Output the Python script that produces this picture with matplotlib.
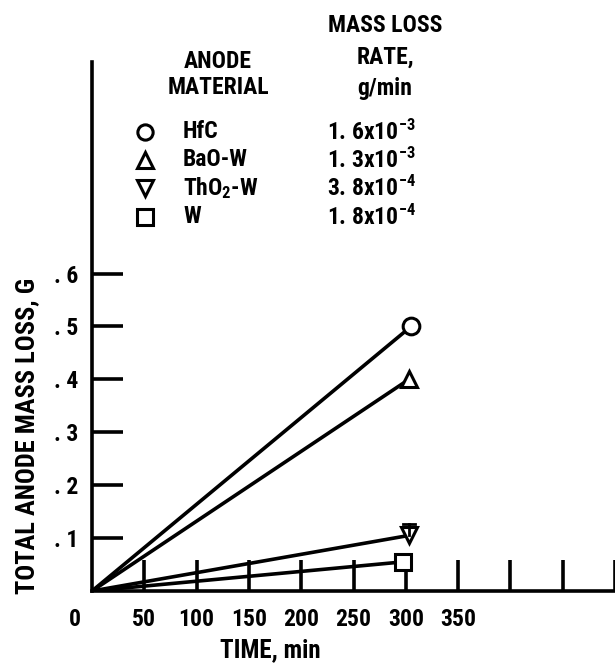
import numpy as np
import matplotlib
matplotlib.use("Agg")
import matplotlib.pyplot as plt

# data
materials = ["HfC", "BaO-W", "ThO$_2$-W", "W"]
rates = ["1. 6x10$^{-3}$", "1. 3x10$^{-3}$", "3. 8x10$^{-4}$", "1. 8x10$^{-4}$"]
markers = ["o", "^", "v", "s"]
end_time = [305, 303, 303, 297]        # min
end_loss = [0.50, 0.40, 0.105, 0.055]  # g
err_top = [None, None, 0.126, None]

xticks = [50, 100, 150, 200, 250, 300, 350, 400, 450, 500]
xlabels = ["50", "100", "150", "200", "250", "300", "350", "", "", ""]
yticks = [0.1, 0.2, 0.3, 0.4, 0.5, 0.6]
ylabels = [". 1", ". 2", ". 3", ". 4", ". 5", ". 6"]

FONT = "Roboto Condensed"
plt.rcParams["font.family"] = [FONT, "DejaVu Sans"]
plt.rcParams["font.weight"] = "bold"
plt.rcParams["mathtext.fontset"] = "custom"
plt.rcParams["mathtext.rm"] = FONT + ":bold"
plt.rcParams["mathtext.it"] = FONT + ":bold"
plt.rcParams["mathtext.bf"] = FONT + ":bold"

W, H = 615, 663
fig = plt.figure(figsize=(W / 100, H / 100), dpi=100)
x0, y0, x1, y1 = 92, 591, 615, 62
ax = fig.add_axes([x0 / W, (H - y0) / H, (x1 - x0) / W, (y0 - y1) / H])
ax.set_xlim(0, 500)
ax.set_ylim(0, 1.0)

lw = 2.6
for sp in ["top", "right"]:
    ax.spines[sp].set_visible(False)
for sp in ["left", "bottom"]:
    ax.spines[sp].set_linewidth(lw)

# data lines + markers
for i in range(4):
    ax.plot([0, end_time[i]], [0, end_loss[i]], color="black", lw=lw,
            solid_capstyle="butt", zorder=3)
    ax.plot(end_time[i], end_loss[i], marker=markers[i], ms=12, mfc="white",
            mec="black", mew=2.2, ls="none", zorder=4, clip_on=False)
    if err_top[i] is not None:
        ax.plot([end_time[i], end_time[i]], [end_loss[i], err_top[i]],
                color="black", lw=2.0, zorder=5)
        ax.plot([end_time[i] - 6, end_time[i] + 6], [err_top[i], err_top[i]],
                color="black", lw=2.0, zorder=5)

ax.set_xticks(xticks)
ax.set_xticklabels(xlabels)
ax.set_yticks(yticks)
ax.set_yticklabels(ylabels)
ax.tick_params(direction="in", length=22, width=lw, labelsize=17, pad=12)
ax.tick_params(axis="y", pad=10)

ax.annotate("0", xy=(0, 0), xycoords="data", xytext=(-17, -17),
            textcoords="offset pixels", ha="center", va="top", fontsize=17)

fig.text(270 / W, 1 - 650 / H, "TIME, min", ha="center", va="center", fontsize=18)
fig.text(27 / W, 1 - 436 / H, "TOTAL ANODE MASS LOSS, G", ha="center",
         va="center", rotation=90, fontsize=19)

# legend block
fig.text(218 / W, 1 - 62 / H, "ANODE", ha="center", va="center", fontsize=17)
fig.text(218 / W, 1 - 88 / H, "MATERIAL", ha="center", va="center", fontsize=17)
fig.text(385 / W, 1 - 26 / H, "MASS LOSS", ha="center", va="center", fontsize=17)
fig.text(385 / W, 1 - 57 / H, "RATE,", ha="center", va="center", fontsize=17)
fig.text(385 / W, 1 - 88 / H, "g/min", ha="center", va="center", fontsize=17)
row_y = [132, 160, 188, 217]
for i in range(4):
    fy = 1 - row_y[i] / H
    ax.plot([145 / W], [fy], marker=markers[i], ms=11, mfc="white", mec="black",
            mew=2.2, transform=fig.transFigure, clip_on=False)
    fig.text(183 / W, fy, materials[i], ha="left", va="center", fontsize=17)
    fig.text(327 / W, fy, rates[i], ha="left", va="center", fontsize=17)

fig.savefig("out.png", dpi=100)
